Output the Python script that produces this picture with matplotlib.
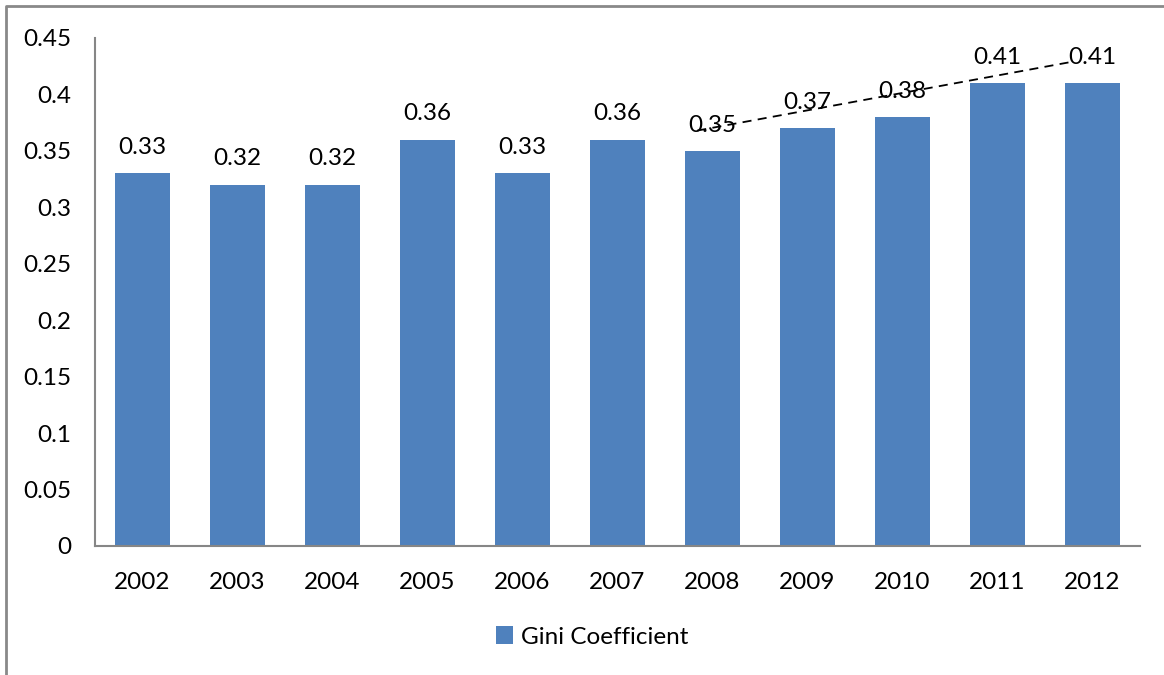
import matplotlib.pyplot as plt
from matplotlib.lines import Line2D

years = ['2002', '2003', '2004', '2005', '2006', '2007', '2008', '2009', '2010', '2011', '2012']
gini = [0.33, 0.32, 0.32, 0.36, 0.33, 0.36, 0.35, 0.37, 0.38, 0.41, 0.41]
ytick_vals = [0, 0.05, 0.1, 0.15, 0.2, 0.25, 0.3, 0.35, 0.4, 0.45]
ytick_labels = ['0', '0.05', '0.1', '0.15', '0.2', '0.25', '0.3', '0.35', '0.4', '0.45']

# hand-drawn dashed trend line (category position, value)
trend_x = [5.84, 9.79]
trend_y = [0.368, 0.429]

plt.rcParams['font.family'] = ['Lato', 'DejaVu Sans']
FS = 17.5

fig = plt.figure(figsize=(11.64, 6.75), dpi=100)
ax = fig.add_axes([95/1164, 1-546/675, (1140-95)/1164, (546-38)/675])

x = list(range(len(years)))
bars = ax.bar(x, gini, width=0.57, color='#4F81BD', label='Gini Coefficient', zorder=2)

for xi, v in zip(x, gini):
	ax.annotate(f'{v:g}', (xi, v), xytext=(0, 11), textcoords='offset points',
				ha='center', va='bottom', fontsize=FS, color='black', zorder=4)

ax.plot(trend_x, trend_y, color='black', lw=1.3, ls=(0, (5, 3.5)), zorder=3)

ax.set_xlim(-0.5, len(years) - 0.5)
ax.set_ylim(0, 0.45)
ax.set_xticks(x)
ax.set_xticklabels(years)
ax.set_yticks(ytick_vals)
ax.set_yticklabels(ytick_labels)
ax.tick_params(axis='both', length=0, labelsize=FS)
ax.tick_params(axis='y', pad=17)
ax.tick_params(axis='x', pad=19)

for side in ['top', 'right']:
	ax.spines[side].set_visible(False)
for side in ['left', 'bottom']:
	ax.spines[side].set_color('#868686')
	ax.spines[side].set_linewidth(1.5)

leg = fig.legend(handles=[bars], labels=['Gini Coefficient'], loc='center',
				 bbox_to_anchor=(592/1164, 1-637/675), frameon=False, fontsize=FS,
				 handlelength=0.7, handleheight=0.7, handletextpad=0.35)

# outer chart frame (top and left edges visible)
fig.add_artist(Line2D([6/1164, 6/1164, 1], [0, 1-6/675, 1-6/675],
					  transform=fig.transFigure, color='#898989', lw=2))

fig.savefig('out.png', dpi=100)
